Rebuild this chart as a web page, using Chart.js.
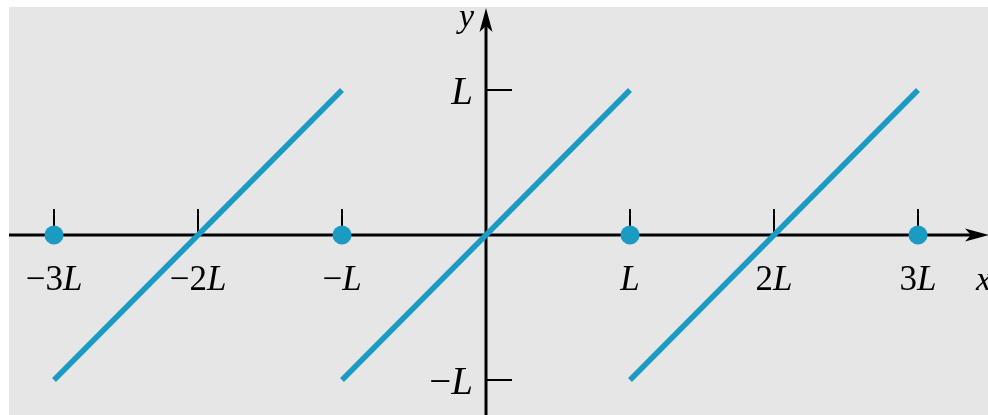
<!DOCTYPE html>
<html>
<head>
<meta charset="utf-8">
<script src="https://cdn.jsdelivr.net/npm/chart.js@4"></script>
<style>
  html, body { margin: 0; padding: 0; background: #ffffff; overflow: hidden; }
  .chart-container { position: relative; width: 988px; height: 415px; }
</style>
</head>
<body>
<div class="chart-container">
  <canvas id="sawChart"></canvas>
</div>
<script>
// --- DATA (in units of L) ---
const TOOTH_START = [-3, -1, 1];
const TOOTH_END = [-1, 1, 3];
const TOOTH_LOW = -1;
const TOOTH_HIGH = 1;
const DOT_X = [-3, -1, 1, 3];
const DOT_Y = [0, 0, 0, 0];
const X_TICKS = [-3, -2, -1, 1, 2, 3];
const X_TICK_LABELS = ['−3L', '−2L', '−L', 'L', '2L', '3L'];
const Y_TICKS = [1, -1];
const Y_TICK_LABELS = ['L', '−L'];

const BLUE = '#1b9bc4';
const SERIF = '"Liberation Serif", "DejaVu Serif", serif';

// one line dataset per tooth
const toothSets = TOOTH_START.map((x0, i) => ({
    type: 'line',
    data: [{ x: x0, y: TOOTH_LOW }, { x: TOOTH_END[i], y: TOOTH_HIGH }],
    borderColor: BLUE,
    borderWidth: 5.5,
    borderCapStyle: 'butt',
    pointRadius: 0,
    fill: false,
    clip: false,
    order: 2
}));

const dotSet = {
    type: 'scatter',
    data: DOT_X.map((x, i) => ({ x, y: DOT_Y[i] })),
    backgroundColor: BLUE,
    borderWidth: 0,
    pointRadius: 9.5,
    clip: false,
    order: 1
};

// draws text where the last character (L) is italic and the rest upright
function drawMixed(ctx, text, x, y, size, align) {
    const head = text.slice(0, -1);
    const tail = text.slice(-1);
    const upFont = size + 'px ' + SERIF;
    const itFont = 'italic ' + size + 'px ' + SERIF;
    ctx.font = upFont;
    const wHead = ctx.measureText(head).width;
    ctx.font = itFont;
    const wTail = ctx.measureText(tail).width;
    const total = wHead + wTail;
    let left = x;
    if (align === 'center') left = x - total / 2;
    if (align === 'right') left = x - total;
    ctx.textAlign = 'left';
    ctx.textBaseline = 'alphabetic';
    ctx.font = upFont;
    ctx.fillText(head, left, y);
    ctx.font = itFont;
    ctx.fillText(tail, left + wHead, y);
}

function arrowHead(ctx, tx, ty, dx, dy) {
    // dx,dy unit direction of the arrow
    const len = 24, half = 6.5, notch = 6;
    const px = -dy, py = dx;
    ctx.beginPath();
    ctx.moveTo(tx, ty);
    ctx.lineTo(tx - dx * len + px * half, ty - dy * len + py * half);
    ctx.lineTo(tx - dx * (len - notch), ty - dy * (len - notch));
    ctx.lineTo(tx - dx * len - px * half, ty - dy * len - py * half);
    ctx.closePath();
    ctx.fill();
}

const axesPlugin = {
    id: 'axesPlugin',
    beforeDraw(chart) {
        const ctx = chart.ctx;
        ctx.save();
        ctx.fillStyle = '#ffffff';
        ctx.fillRect(0, 0, chart.width, chart.height);
        ctx.fillStyle = '#e6e6e6';
        ctx.fillRect(9, 7, chart.width - 9, chart.height - 7);
        ctx.restore();
    },
    beforeDatasetsDraw(chart) {
        const ctx = chart.ctx;
        const xs = chart.scales.x, ys = chart.scales.y;
        const x0 = xs.getPixelForValue(0);
        const y0 = ys.getPixelForValue(0);
        ctx.save();
        ctx.strokeStyle = '#000';
        ctx.fillStyle = '#000';

        // axes
        ctx.lineWidth = 3;
        ctx.beginPath();
        ctx.moveTo(9, y0);
        ctx.lineTo(chart.width - 12, y0);
        ctx.moveTo(x0, chart.height);
        ctx.lineTo(x0, 26);
        ctx.stroke();
        arrowHead(ctx, chart.width + 1, y0, 1, 0);
        arrowHead(ctx, x0, 8, 0, -1);

        // ticks
        ctx.lineWidth = 2;
        ctx.beginPath();
        X_TICKS.forEach(v => {
            const px = xs.getPixelForValue(v);
            ctx.moveTo(px, y0);
            ctx.lineTo(px, y0 - 26);
        });
        Y_TICKS.forEach(v => {
            const py = ys.getPixelForValue(v);
            ctx.moveTo(x0, py);
            ctx.lineTo(x0 + 26, py);
        });
        ctx.stroke();

        // tick labels
        X_TICKS.forEach((v, i) => {
            drawMixed(ctx, X_TICK_LABELS[i], xs.getPixelForValue(v), y0 + 55, 35, 'center');
        });
        Y_TICKS.forEach((v, i) => {
            drawMixed(ctx, Y_TICK_LABELS[i], x0 - 13, ys.getPixelForValue(v) + 14, 39, 'right');
        });

        // axis names
        ctx.font = 'italic 34px ' + SERIF;
        ctx.textAlign = 'right';
        ctx.fillText('y', x0 - 12, 27);
        ctx.textAlign = 'left';
        ctx.fillText('x', 976, y0 + 55);
        ctx.restore();
    }
};

const W = 988, H = 415;
const ORIGIN_X = 486, ORIGIN_Y = 235, UNIT_X = 144, UNIT_Y = 145;

new Chart(document.getElementById('sawChart').getContext('2d'), {
    type: 'scatter',
    data: { datasets: [...toothSets, dotSet] },
    options: {
        responsive: true,
        maintainAspectRatio: false,
        animation: false,
        layout: { padding: 0, autoPadding: false },
        plugins: { legend: { display: false }, tooltip: { enabled: false } },
        scales: {
            x: { type: 'linear', display: false, min: -ORIGIN_X / UNIT_X, max: (W - ORIGIN_X) / UNIT_X },
            y: { type: 'linear', display: false, min: -(H - ORIGIN_Y) / UNIT_Y, max: ORIGIN_Y / UNIT_Y }
        }
    },
    plugins: [axesPlugin]
});
</script>
</body>
</html>
